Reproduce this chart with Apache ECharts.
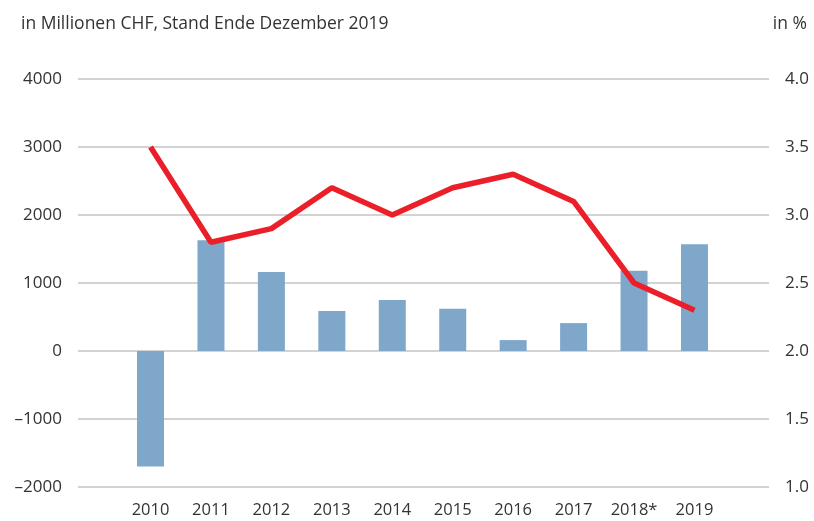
<!DOCTYPE html>
<html><head><meta charset="utf-8">
<script src="https://cdn.jsdelivr.net/npm/echarts@6/dist/echarts.min.js"></script>
<style>html,body{margin:0;padding:0;background:#fff}#c{width:814px;height:521px}</style>
</head><body><div id="c"></div>
<script>
const categories = ['2010','2011','2012','2013','2014','2015','2016','2017','2018*','2019'];
const barValues = [-1700, 1630, 1160, 590, 750, 620, 160, 410, 1180, 1570];
const lineValues = [3.5, 2.8, 2.9, 3.2, 3.0, 3.2, 3.3, 3.1, 2.5, 2.3];
const leftTicks = {min: -2000, max: 4000, interval: 1000};
const rightTicks = {min: 1.0, max: 4.0, interval: 0.5};

const FONT = '"Open Sans", "Noto Sans", sans-serif';
const TXT = '#333';
const FS = 17;
const chart = echarts.init(document.getElementById('c'));
chart.setOption({
  animation: false,
  textStyle: {fontFamily: FONT},
  title: [
    {text: 'in Millionen CHF, Stand Ende Dezember 2019', left: 16, top: 10,
     textStyle: {fontFamily: FONT, fontSize: 17.5, fontWeight: 'normal', color: TXT}},
    {text: 'in %', right: 2, top: 10,
     textStyle: {fontFamily: FONT, fontSize: 17.5, fontWeight: 'normal', color: TXT}}
  ],
  grid: [
    {left: 120.3, right: 89.3, top: 79, bottom: 34},
    {left: 78, right: 45, top: 79, bottom: 34}
  ],
  xAxis: [
    {type: 'category', gridIndex: 0, data: categories, boundaryGap: true,
     axisLine: {show: false}, axisTick: {show: false},
     axisLabel: {interval: 0, hideOverlap: false, margin: 15, fontSize: 16.5, color: TXT, fontFamily: FONT}},
    {type: 'value', gridIndex: 1, min: 0, max: 1, show: false}
  ],
  yAxis: [
    {type: 'value', gridIndex: 0, min: leftTicks.min, max: leftTicks.max, interval: leftTicks.interval, show: false},
    {type: 'value', gridIndex: 0, min: rightTicks.min, max: rightTicks.max, interval: rightTicks.interval, show: false},
    {type: 'value', gridIndex: 1, position: 'left', min: leftTicks.min, max: leftTicks.max, interval: leftTicks.interval,
     axisLine: {show: false}, axisTick: {show: false},
     splitLine: {show: true, lineStyle: {color: '#c4c4c4', width: 1.5}},
     axisLabel: {margin: 16, fontSize: FS, color: TXT, fontFamily: FONT,
       formatter: v => String(v).replace('-', '–')}},
    {type: 'value', gridIndex: 1, position: 'right', min: rightTicks.min, max: rightTicks.max, interval: rightTicks.interval,
     axisLine: {show: false}, axisTick: {show: false}, splitLine: {show: false},
     axisLabel: {margin: 16, fontSize: FS, color: TXT, fontFamily: FONT,
       formatter: v => v.toFixed(1)}}
  ],
  series: [
    {type: 'bar', xAxisIndex: 0, yAxisIndex: 0, data: barValues, barWidth: 27,
     itemStyle: {color: '#7fa7c9'}, z: 2},
    {type: 'line', xAxisIndex: 0, yAxisIndex: 1, data: lineValues, symbol: 'none',
     lineStyle: {color: '#ea1f29', width: 5.5}, z: 3}
  ]
});
</script></body></html>
